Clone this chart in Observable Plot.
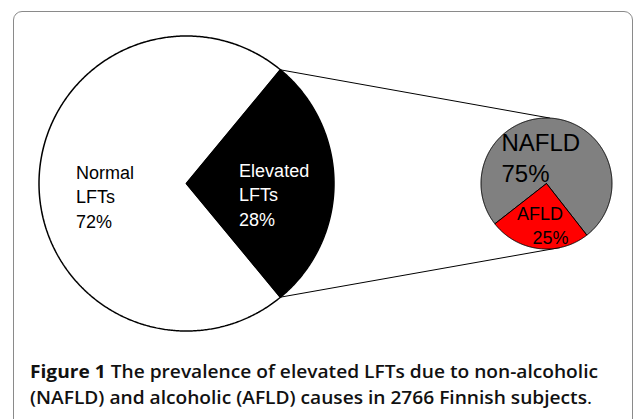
<!DOCTYPE html>
<html>
<head>
<meta charset="utf-8">
<script src="https://cdn.jsdelivr.net/npm/d3@7"></script>
<script src="https://cdn.jsdelivr.net/npm/@observablehq/plot@0.6"></script>
<style>
  html, body { margin: 0; padding: 0; background: #fff; width: 634px; height: 419px; overflow: hidden; }
  #frame { position: absolute; left: 13px; top: 11px; width: 620px; height: 440px; border: 1px solid #8a8a8a; border-radius: 9px; box-sizing: border-box; }
  #chart { position: absolute; left: 0; top: 0; }
  #caption { position: absolute; left: 30px; top: 358px; font-family: "Open Sans", "Noto Sans", sans-serif; font-weight: 600; font-size: 18px; line-height: 26px; color: #111; white-space: nowrap; }
  #caption .line { display: block; }
  #caption .inner { display: inline-block; transform-origin: 0 50%; }
  #caption b { font-weight: 700; }
  #caption .dot { font-weight: 400; }
</style>
</head>
<body>
<div id="frame"></div>
<div id="chart"></div>
<div id="caption"></div>
<script>
// ---------------- data ----------------
const bigCategories = ["Normal LFTs", "Elevated LFTs"];
const bigValues = [72, 28];
const smallCategories = ["NAFLD", "AFLD"];
const smallValues = [75, 25];
const captionLabel = "Figure 1";
const captionLine1 = "The prevalence of elevated LFTs due to non-alcoholic";
const captionLine2 = "(NAFLD) and alcoholic (AFLD) causes in 2766 Finnish subjects";

// ---------------- layout / style ----------------
const W = 634, H = 345;
const BIG = {cx: 186, cy: 183, r: 147.5, focus: 1, focusDeg: 90, fills: ["white", "black"], textFills: ["black", "white"], strokeWidth: 1.5};
const SMALL = {cx: 546, cy: 183, r: 65.5, focus: 1, focusDeg: 187, fills: ["#808080", "#ff0000"], strokeWidth: 1};
const bigLabelPos = [{x: 75.6, y: 227}, {x: 238.6, y: 225}];
const smallNamePos = [{x: 501, y: 150, size: 24}, {x: 516.5, y: 219.5, size: 18}];
const smallValuePos = [{x: 501, y: 181.5, size: 24}, {x: 532, y: 243, size: 18}];
const linkSmallDeg = [3, 168];
const FONT = "Liberation Sans, Arial, Helvetica, sans-serif";

// ---------------- geometry from data ----------------
const rad = d => d * Math.PI / 180;
function pieArcs(values, geo) {
  const arcs = d3.pie().sort(null)(values);
  const f = arcs[geo.focus];
  const offset = rad(geo.focusDeg) - (f.startAngle + f.endAngle) / 2;
  return arcs.map(a => ({start: a.startAngle + offset, end: a.endAngle + offset, value: a.value}));
}
function pt(geo, a) { return {x: geo.cx + geo.r * Math.sin(a), y: geo.cy - geo.r * Math.cos(a)}; }
function slicePoly(geo, arc, key) {
  const pts = [{key, x: geo.cx, y: geo.cy}];
  const n = Math.max(2, Math.ceil((arc.end - arc.start) / rad(0.5)));
  for (let i = 0; i <= n; i++) {
    const a = arc.start + (arc.end - arc.start) * i / n;
    pts.push({key, ...pt(geo, a)});
  }
  pts.push({key, x: geo.cx, y: geo.cy});
  return pts;
}
const bigArcs = pieArcs(bigValues, BIG);
const smallArcs = pieArcs(smallValues, SMALL);

const fa = bigArcs[BIG.focus];
const links = [
  {p1: pt(BIG, fa.start), p2: pt(SMALL, rad(linkSmallDeg[0]))},
  {p1: pt(BIG, fa.end), p2: pt(SMALL, rad(linkSmallDeg[1]))}
].map(d => ({x1: d.p1.x, y1: d.p1.y, x2: d.p2.x, y2: d.p2.y}));

const bigLabels = bigCategories.map((c, i) => ({
  text: c.split(" ").join("\n") + "\n" + bigValues[i] + "%",
  x: bigLabelPos[i].x, y: bigLabelPos[i].y, fill: BIG.textFills[i]
}));
const smallNames = smallCategories.map((c, i) => ({text: c, ...smallNamePos[i]}));
const smallVals = smallValues.map((v, i) => ({text: v + "%", ...smallValuePos[i]}));

const marks = [
  Plot.link(links, {x1: "x1", y1: "y1", x2: "x2", y2: "y2", stroke: "black", strokeWidth: 1})
];
bigArcs.forEach((a, i) => marks.push(Plot.line(slicePoly(BIG, a, bigCategories[i]), {x: "x", y: "y", fill: BIG.fills[i], stroke: "black", strokeWidth: BIG.strokeWidth, strokeLinejoin: "miter"})));
smallArcs.forEach((a, i) => marks.push(Plot.line(slicePoly(SMALL, a, smallCategories[i]), {x: "x", y: "y", fill: SMALL.fills[i], stroke: "black", strokeWidth: SMALL.strokeWidth, strokeLinejoin: "miter"})));
marks.push(Plot.text(bigLabels, {x: "x", y: "y", text: "text", fill: "fill", textAnchor: "start", lineAnchor: "bottom", lineHeight: 1.36, fontSize: 18, fontFamily: FONT}));
marks.push(Plot.text(smallNames.slice(0, 1), {x: "x", y: "y", text: "text", fill: "black", textAnchor: "start", lineAnchor: "bottom", fontSize: 24, fontFamily: FONT}));
marks.push(Plot.text(smallVals.slice(0, 1), {x: "x", y: "y", text: "text", fill: "black", textAnchor: "start", lineAnchor: "bottom", fontSize: 24, fontFamily: FONT}));
marks.push(Plot.text(smallNames.slice(1), {x: "x", y: "y", text: "text", fill: "black", textAnchor: "start", lineAnchor: "bottom", fontSize: 18, fontFamily: FONT}));
marks.push(Plot.text(smallVals.slice(1), {x: "x", y: "y", text: "text", fill: "black", textAnchor: "start", lineAnchor: "bottom", fontSize: 18, fontFamily: FONT}));

const chart = Plot.plot({
  width: W, height: H, margin: 0,
  x: {domain: [0, W], range: [0, W], axis: null},
  y: {domain: [0, H], range: [0, H], axis: null},
  style: {background: "transparent", overflow: "visible"},
  marks
});
document.getElementById("chart").appendChild(chart);

// ---------------- caption ----------------
const cap = document.getElementById("caption");
const l1 = document.createElement("span"); l1.className = "line";
const i1 = document.createElement("span"); i1.className = "inner";
const b = document.createElement("b"); b.textContent = captionLabel;
i1.appendChild(b); i1.appendChild(document.createTextNode(" " + captionLine1));
l1.appendChild(i1);
const l2 = document.createElement("span"); l2.className = "line";
const i2 = document.createElement("span"); i2.className = "inner";
i2.appendChild(document.createTextNode(captionLine2));
const dot = document.createElement("span"); dot.className = "dot"; dot.textContent = ".";
i2.appendChild(dot);
l2.appendChild(i2);
cap.appendChild(l1); cap.appendChild(l2);
function fit() {
  [[i1, 568], [i2, 562]].forEach(([el, target]) => {
    el.style.transform = "none";
    const w = el.getBoundingClientRect().width;
    if (w > 0) el.style.transform = `scaleX(${target / w})`;
  });
}
fit();
if (document.fonts && document.fonts.ready) document.fonts.ready.then(fit);
</script>
</body>
</html>
